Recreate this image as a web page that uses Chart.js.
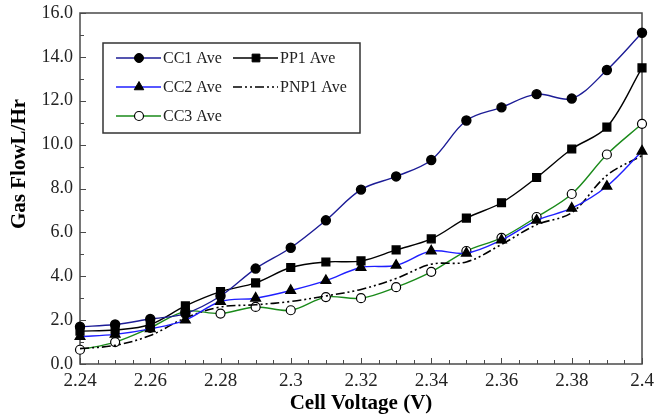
<!DOCTYPE html>
<html>
<head>
<meta charset="utf-8">
<script src="https://cdn.jsdelivr.net/npm/chart.js@4.4.1/dist/chart.umd.min.js"></script>
<style>
  html, body { margin: 0; padding: 0; background: #fff; }
  #wrap { width: 663px; height: 416px; position: relative; }
</style>
</head>
<body>
<div id="wrap"><canvas id="chart"></canvas></div>
<script>
// Cell voltage (V) and averaged gas flow (L/Hr) per cell
const voltage = [2.24, 2.25, 2.26, 2.27, 2.28, 2.29, 2.30, 2.31, 2.32, 2.33, 2.34, 2.35, 2.36, 2.37, 2.38, 2.39, 2.40];
const cc1Ave  = [1.7, 1.8, 2.05, 2.3, 3.1, 4.35, 5.3, 6.55, 7.95, 8.55, 9.3, 11.1, 11.7, 12.3, 12.1, 13.4, 15.1];
const pp1Ave  = [1.5, 1.55, 1.8, 2.65, 3.3, 3.7, 4.4, 4.65, 4.7, 5.2, 5.7, 6.65, 7.35, 8.5, 9.8, 10.8, 13.5];
const cc2Ave  = [1.25, 1.35, 1.6, 2.0, 2.85, 3.0, 3.35, 3.8, 4.4, 4.5, 5.15, 5.05, 5.65, 6.55, 7.1, 8.1, 9.7];
const pnp1Ave = [0.7, 0.85, 1.3, 2.1, 2.6, 2.7, 2.85, 3.1, 3.4, 3.9, 4.55, 4.65, 5.45, 6.35, 6.9, 8.6, 9.5];
const cc3Ave  = [0.65, 1.0, 1.65, 2.4, 2.3, 2.6, 2.45, 3.05, 3.0, 3.5, 4.2, 5.15, 5.75, 6.7, 7.75, 9.55, 10.95];

const xTitle = "Cell Voltage (V)";
const yTitle = "Gas FlowL/Hr";

const serif = "'Liberation Serif', 'DejaVu Serif', serif";

function pts(arr) {
  return voltage.map((v, i) => ({ x: v, y: arr[i] }));
}

const series = [
  { label: "CC1 Ave", data: pts(cc1Ave), borderColor: "#1c1c96", pointStyle: "circle", pointRadius: 4.5,
    pointBackgroundColor: "#000", pointBorderColor: "#000" },
  { label: "PP1 Ave", data: pts(pp1Ave), borderColor: "#000", pointStyle: "rect", pointRadius: 5.5,
    pointBackgroundColor: "#000", pointBorderColor: "#000" },
  { label: "CC2 Ave", data: pts(cc2Ave), borderColor: "#1f1fff", pointStyle: "triangle", pointRadius: 5.5,
    pointBackgroundColor: "#000", pointBorderColor: "#000" },
  { label: "PNP1 Ave", data: pts(pnp1Ave), borderColor: "#000", borderDash: [9, 3, 2, 3, 2, 3], pointRadius: 0,
    pointStyle: false, borderWidth: 1.6 },
  { label: "CC3 Ave", data: pts(cc3Ave), borderColor: "#1a8a1a", pointStyle: "circle", pointRadius: 4.5,
    pointBackgroundColor: "#fff", pointBorderColor: "#000", pointBorderWidth: 1.2 }
];

// frame, inward ticks, y title and boxed legend
const decor = {
  id: "decor",
  beforeDatasetsDraw(chart) {
    const ctx = chart.ctx;
    const a = chart.chartArea;
    const xs = chart.scales.x, ys = chart.scales.y;
    ctx.save();
    ctx.strokeStyle = "#4a4a4a";
    ctx.lineWidth = 1.5;
    ctx.strokeRect(a.left, a.top, a.right - a.left, a.bottom - a.top);

    ctx.lineWidth = 1;
    ctx.beginPath();
    xs.ticks.forEach(t => {
      const px = Math.round(xs.getPixelForValue(t.value)) + 0.5;
      const major = Math.round(t.value * 1000) % 20 === 0;
      const len = major ? 6 : 4;
      ctx.moveTo(px, a.bottom);
      ctx.lineTo(px, a.bottom - len);
    });
    ys.ticks.forEach(t => {
      const py = Math.round(ys.getPixelForValue(t.value)) + 0.5;
      const major = Math.round(t.value) % 2 === 0;
      const len = major ? 6 : 4;
      ctx.moveTo(a.left, py);
      ctx.lineTo(a.left + len, py);
    });
    ctx.stroke();

    // y axis title
    ctx.fillStyle = "#000";
    ctx.font = "bold 21px " + serif;
    ctx.textAlign = "center";
    ctx.textBaseline = "middle";
    ctx.translate(20, 164);
    ctx.rotate(-Math.PI / 2);
    ctx.fillText(yTitle, 0, 0);
    ctx.restore();
  },
  afterDraw(chart) {
    const ctx = chart.ctx;
    // legend box
    ctx.save();
    const box = { x: 103, y: 43, w: 257, h: 90 };
    ctx.fillStyle = "#fff";
    ctx.fillRect(box.x, box.y, box.w, box.h);
    ctx.strokeStyle = "#333";
    ctx.lineWidth = 1.5;
    ctx.strokeRect(box.x, box.y, box.w, box.h);
    const slots = [
      [0, 116, 58], [1, 233, 58], [2, 116, 87], [3, 233, 87], [4, 116, 116]
    ];
    ctx.font = "16px " + serif;
    ctx.textBaseline = "middle";
    ctx.textAlign = "left";
    slots.forEach(([i, lx, ly]) => {
      const ds = chart.data.datasets[i];
      ctx.save();
      ctx.strokeStyle = ds.borderColor;
      ctx.lineWidth = ds.borderWidth || 1.4;
      if (ds.borderDash) ctx.setLineDash(ds.borderDash);
      ctx.beginPath();
      ctx.moveTo(lx, ly);
      ctx.lineTo(lx + 45, ly);
      ctx.stroke();
      ctx.restore();
      if (ds.pointStyle) {
        ctx.save();
        ctx.fillStyle = ds.pointBackgroundColor;
        ctx.strokeStyle = ds.pointBorderColor;
        ctx.lineWidth = ds.pointBorderWidth || 1;
        Chart.helpers.drawPoint(ctx, { pointStyle: ds.pointStyle, radius: ds.pointRadius, borderWidth: ctx.lineWidth }, lx + 23, ly);
        ctx.restore();
      }
      ctx.fillStyle = "#222";
      ctx.fillText(ds.label, lx + 47, ly + 1);
    });
    ctx.restore();
  }
};

new Chart(document.getElementById("chart"), {
  type: "line",
  data: {
    datasets: series.map(s => Object.assign({ borderWidth: 1.4, tension: 0.35, fill: false, clip: false }, s))
  },
  options: {
    responsive: true,
    maintainAspectRatio: false,
    animation: false,
    layout: { padding: { left: 0, right: 21, top: 13, bottom: 0 } },
    plugins: { legend: { display: false }, tooltip: { enabled: false } },
    scales: {
      x: {
        type: "linear",
        min: 2.24,
        max: 2.4,
        afterFit: s => { s.height = 52; s.paddingLeft = 0; s.paddingRight = 0; },
        grid: { display: false, drawTicks: false },
        border: { display: false },
        ticks: {
          stepSize: 0.005,
          autoSkip: false,
          maxRotation: 0,
          padding: 6,
          color: "#222",
          font: { family: serif, size: 19 },
          callback: v => (Math.round(v * 1000) % 20 === 0 ? String(Number(v.toFixed(2))) : "")
        },
        title: {
          display: true,
          text: xTitle,
          color: "#000",
          font: { family: serif, size: 21, weight: "bold" },
          padding: { top: 0, bottom: 0 }
        }
      },
      y: {
        min: 0,
        max: 16,
        afterFit: s => { s.width = 80; s.paddingTop = 0; s.paddingBottom = 0; },
        grid: { display: false, drawTicks: false },
        border: { display: false },
        ticks: {
          stepSize: 1,
          autoSkip: false,
          padding: 7,
          color: "#222",
          font: { family: serif, size: 18 },
          callback: v => (Math.round(v) % 2 === 0 ? v.toFixed(1) : "")
        }
      }
    }
  },
  plugins: [decor]
});
</script>
</body>
</html>
